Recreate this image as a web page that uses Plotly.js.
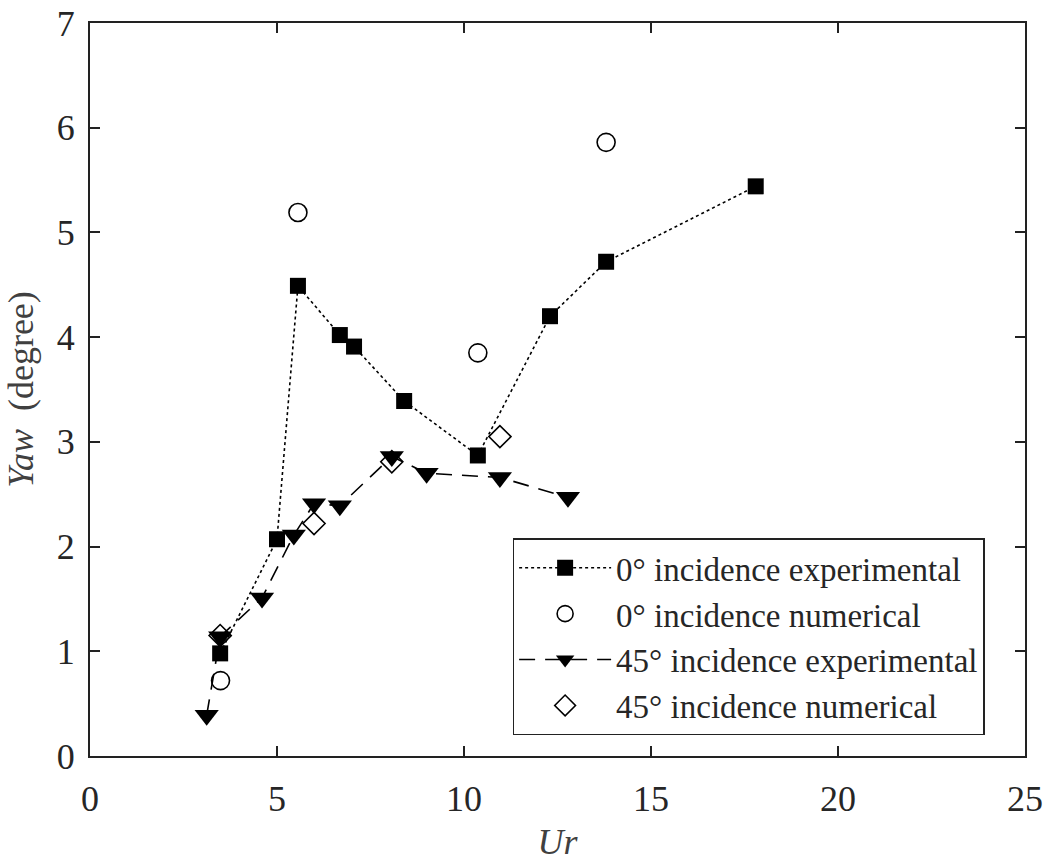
<!DOCTYPE html>
<html>
<head>
<meta charset="utf-8">
<script src="https://cdn.plot.ly/plotly-3.0.1.min.js"></script>
<style>
  html, body { margin: 0; padding: 0; background: #fff; }
  #chart { width: 1047px; height: 862px; }
</style>
</head>
<body>
<div id="chart"></div>
<script>
// 0° incidence experimental
const exp0_x = [3.48, 5.0, 5.56, 6.68, 7.06, 8.4, 10.37, 12.3, 13.8, 17.8];
const exp0_y = [0.98, 2.07, 4.49, 4.02, 3.91, 3.39, 2.87, 4.20, 4.72, 5.44];
// 0° incidence numerical
const num0_x = [3.49, 5.56, 10.37, 13.8];
const num0_y = [0.72, 5.19, 3.85, 5.86];
// 45° incidence experimental
const exp45_x = [3.12, 3.48, 4.6, 5.45, 5.99, 6.68, 8.07, 9.0, 10.96, 12.78];
const exp45_y = [0.39, 1.14, 1.51, 2.11, 2.41, 2.39, 2.86, 2.70, 2.66, 2.47];
// 45° incidence numerical
const num45_x = [3.48, 5.99, 8.07, 10.96];
const num45_y = [1.15, 2.22, 2.81, 3.05];

const names = ['0° incidence experimental', '0° incidence numerical',
               '45° incidence experimental', '45° incidence numerical'];
const xTicks = [0, 5, 10, 15, 20, 25];
const yTicks = [0, 1, 2, 3, 4, 5, 6, 7];

const FONT = 'Liberation Serif';

const traces = [
  { x: exp0_x, y: exp0_y, name: names[0], mode: 'lines+markers',
    line: { color: 'black', width: 1.6, dash: 'dot' },
    marker: { symbol: 'square', size: 16, color: 'black' } },
  { x: num0_x, y: num0_y, name: names[1], mode: 'markers',
    marker: { symbol: 'circle-open', size: 18, color: 'black', line: { width: 1.6, color: 'black' } } },
  { x: exp45_x, y: exp45_y, name: names[2], mode: 'lines+markers',
    line: { color: 'black', width: 1.6, dash: '16px,10px' },
    marker: { symbol: 'triangle-down', size: 21, color: 'black' } },
  { x: num45_x, y: num45_y, name: names[3], mode: 'markers',
    marker: { symbol: 'diamond-open', size: 17, color: 'black', line: { width: 1.6, color: 'black' } } }
];

const axisCommon = {
  showgrid: false, zeroline: false, showline: true, linecolor: '#222', linewidth: 2,
  mirror: 'ticks', ticks: 'inside', ticklen: 10, tickwidth: 2, tickcolor: '#222',
  tickfont: { family: FONT, size: 36, color: '#262626' }
};

const layout = {
  width: 1047, height: 862,
  paper_bgcolor: 'white', plot_bgcolor: 'white',
  margin: { l: 90, r: 22, t: 23, b: 106 },
  font: { family: FONT, color: '#262626' },
  showlegend: true,
  xaxis: Object.assign({}, axisCommon, {
    range: [0, 25], tickvals: xTicks, ticktext: xTicks.map(String),
    ticklabelstandoff: 10,
    title: { text: '<i>Ur</i>', font: { family: FONT, size: 36, color: '#404040' }, standoff: 22 }
  }),
  yaxis: Object.assign({}, axisCommon, {
    range: [0, 7], tickvals: yTicks, ticktext: yTicks.map(String),
    ticklabelstandoff: 6,
    title: { text: '<i>Yaw</i>  (degree)', font: { family: FONT, size: 36, color: '#404040' }, standoff: 12 }
  }),
  legend: {
    x: 0.452, y: 0.297, xanchor: 'left', yanchor: 'top',
    bgcolor: 'white', bordercolor: '#222', borderwidth: 1.5,
    font: { family: FONT, size: 33, color: '#262626' },
    itemwidth: 92
  }
};

Plotly.newPlot('chart', traces, layout, { displayModeBar: false, staticPlot: true });
</script>
</body>
</html>
